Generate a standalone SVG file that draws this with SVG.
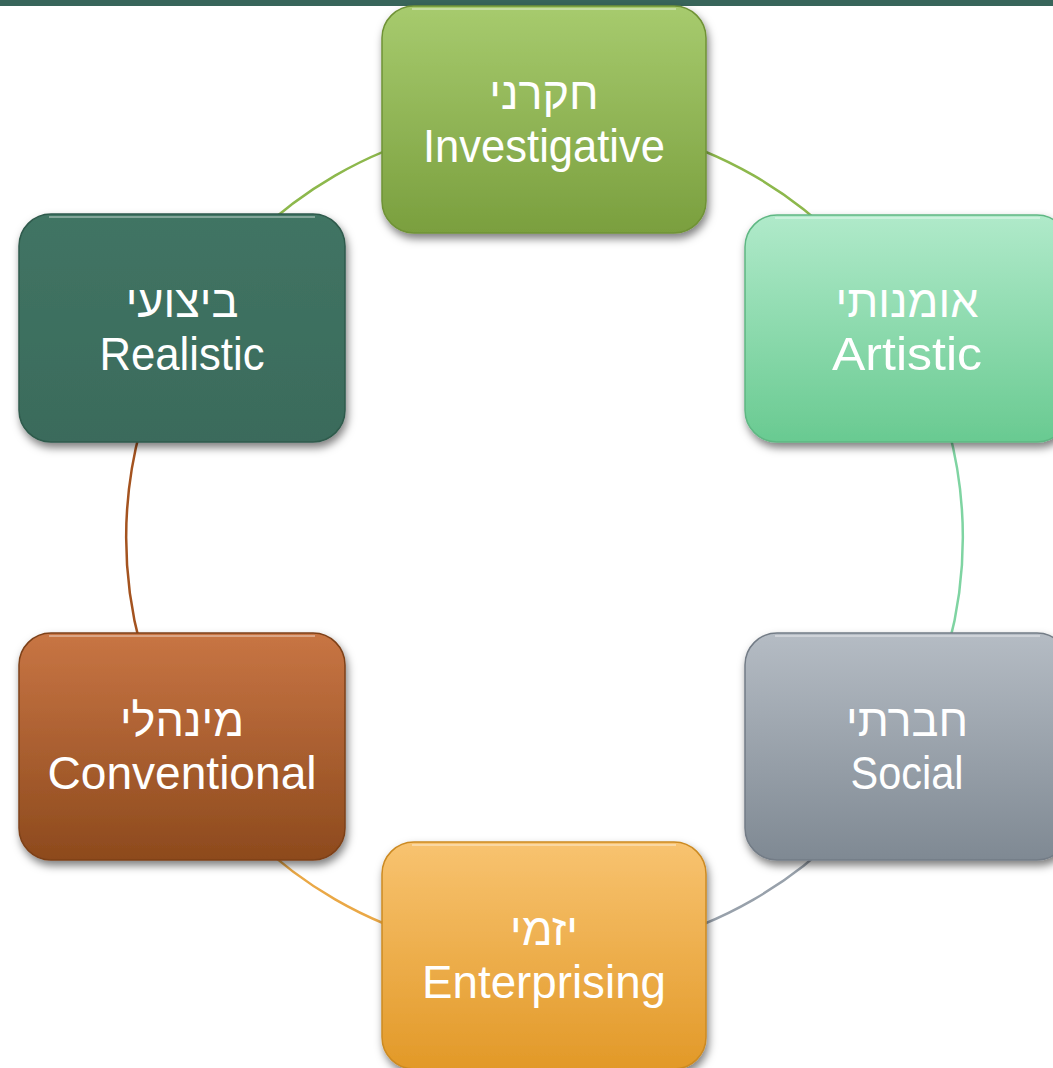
<svg xmlns="http://www.w3.org/2000/svg" width="1053" height="1068" viewBox="0 0 1053 1068">
<style>
.box{stroke-width:1.5}
.lbl{fill:#ffffff;text-anchor:middle;font-variant-ligatures:none}
.he{font-family:"Liberation Sans","DejaVu Sans",sans-serif;font-size:45px}
.en{font-family:"Liberation Sans",Arial,sans-serif;font-size:47px}
.arc{fill:none;stroke-width:2.5}
.hl{fill:none;stroke:#ffffff;stroke-opacity:0.35;stroke-width:2}
</style>
<defs>
<filter id="sh" x="-10%" y="-10%" width="125%" height="130%">
<feDropShadow dx="2" dy="5" stdDeviation="4" flood-color="#000" flood-opacity="0.5"/>
</filter>
<linearGradient id="gInv" x1="0" y1="0" x2="0" y2="1"><stop offset="0" stop-color="#a7cb6e"/><stop offset="1" stop-color="#7a9f3e"/></linearGradient>
<linearGradient id="gArt" x1="0" y1="0" x2="0" y2="1"><stop offset="0" stop-color="#b0eaca"/><stop offset="1" stop-color="#69ca91"/></linearGradient>
<linearGradient id="gRea" x1="0" y1="0" x2="0" y2="1"><stop offset="0" stop-color="#417464"/><stop offset="1" stop-color="#3a6b5b"/></linearGradient>
<linearGradient id="gSoc" x1="0" y1="0" x2="0" y2="1"><stop offset="0" stop-color="#b5bcc4"/><stop offset="1" stop-color="#7f8993"/></linearGradient>
<linearGradient id="gCon" x1="0" y1="0" x2="0" y2="1"><stop offset="0" stop-color="#c87544"/><stop offset="1" stop-color="#8d4a1d"/></linearGradient>
<linearGradient id="gEnt" x1="0" y1="0" x2="0" y2="1"><stop offset="0" stop-color="#f8c370"/><stop offset="1" stop-color="#e29928"/></linearGradient>
</defs>
<rect x="0" y="0" width="1053" height="1068" fill="#ffffff"/>
<rect x="0" y="0" width="1053" height="6" fill="#38655a"/>
<g id="connectors">
<path class="arc" stroke="#8db84c" d="M544 119.5 A419 419 0 0 1 907 328.5"/>
<path class="arc" stroke="#7fd4a2" d="M907 328.5 A419 419 0 0 1 907 746.5"/>
<path class="arc" stroke="#98a1ab" d="M907 746.5 A419 419 0 0 1 544 955.5"/>
<path class="arc" stroke="#eaa846" d="M544 955.5 A419 419 0 0 1 182 746.5"/>
<path class="arc" stroke="#a4531f" d="M182 746.5 A419 419 0 0 1 182 328.5"/>
<path class="arc" stroke="#8db84c" d="M182 328.5 A419 419 0 0 1 544 119.5"/>
</g>
<g id="investigative">
<rect class="box" x="382" y="6" width="324" height="227" rx="32" fill="url(#gInv)" stroke="#6f9236" filter="url(#sh)"/>
<path class="hl" d="M412 9 H676"/>
<text class="lbl"><tspan class="he" x="544" y="109">חקרני</tspan><tspan class="en" x="544" y="162" textLength="242" lengthAdjust="spacingAndGlyphs">Investigative</tspan></text>
</g>
<g id="artistic">
<rect class="box" x="745" y="215" width="324" height="227" rx="32" fill="url(#gArt)" stroke="#5fb783" filter="url(#sh)"/>
<path class="hl" d="M775 218 H1040"/>
<text class="lbl"><tspan class="he" x="907" y="317">אומנותי</tspan><tspan class="en" x="907" y="370" textLength="150" lengthAdjust="spacingAndGlyphs">Artistic</tspan></text>
</g>
<g id="social">
<rect class="box" x="745" y="633" width="324" height="227" rx="32" fill="url(#gSoc)" stroke="#737c86" filter="url(#sh)"/>
<path class="hl" d="M775 636 H1040"/>
<text class="lbl"><tspan class="he" x="907" y="736">חברתי</tspan><tspan class="en" x="907" y="789" textLength="113" lengthAdjust="spacingAndGlyphs">Social</tspan></text>
</g>
<g id="enterprising">
<rect class="box" x="382" y="842" width="324" height="227" rx="32" fill="url(#gEnt)" stroke="#cc8a22" filter="url(#sh)"/>
<path class="hl" d="M412 845 H676"/>
<text class="lbl"><tspan class="he" x="544" y="945">יזמי</tspan><tspan class="en" x="544" y="998" textLength="244" lengthAdjust="spacingAndGlyphs">Enterprising</tspan></text>
</g>
<g id="conventional">
<rect class="box" x="19" y="633" width="326" height="227" rx="32" fill="url(#gCon)" stroke="#7d4119" filter="url(#sh)"/>
<path class="hl" d="M49 636 H315"/>
<text class="lbl"><tspan class="he" x="182" y="736">מינהלי</tspan><tspan class="en" x="182" y="789" textLength="269" lengthAdjust="spacingAndGlyphs">Conventional</tspan></text>
</g>
<g id="realistic">
<rect class="box" x="19" y="214" width="326" height="228" rx="32" fill="url(#gRea)" stroke="#2f5a4c" filter="url(#sh)"/>
<path class="hl" d="M49 217 H315"/>
<text class="lbl"><tspan class="he" x="182" y="317">ביצועי</tspan><tspan class="en" x="182" y="370" textLength="165" lengthAdjust="spacingAndGlyphs">Realistic</tspan></text>
</g>
</svg>
